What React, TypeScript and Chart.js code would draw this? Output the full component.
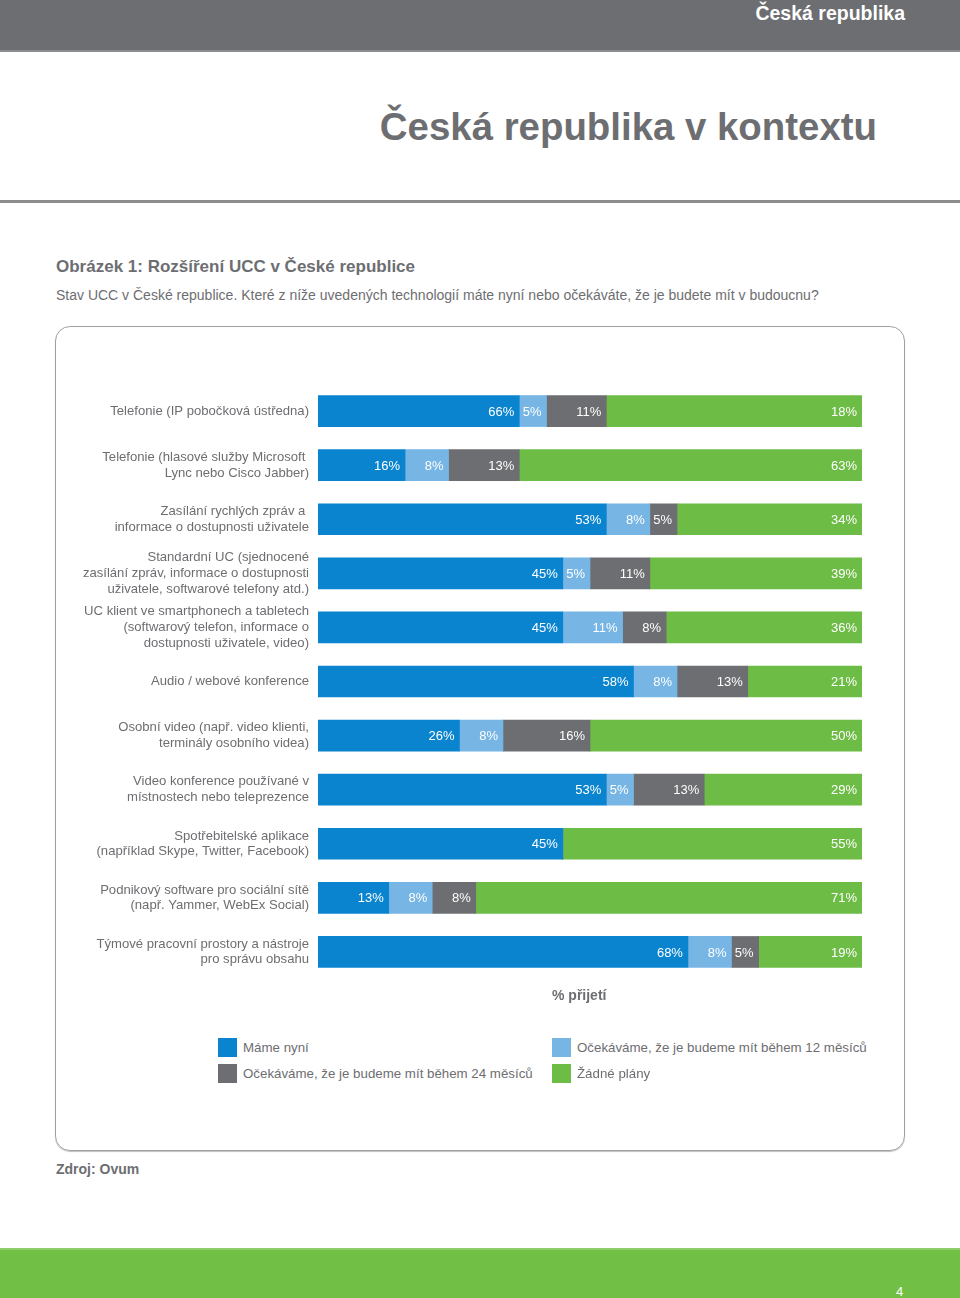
import React, { useEffect, useRef } from "react";
import { Chart, registerables } from "chart.js";

Chart.register(...registerables);

// ---- data ----
const categories: string[][] = [
  ["Telefonie (IP pobočková ústředna)"],
  ["Telefonie (hlasové služby Microsoft ", "Lync nebo Cisco Jabber)"],
  ["Zasílání rychlých zpráv a ", "informace o dostupnosti uživatele"],
  ["Standardní UC (sjednocené", "zasílání zpráv, informace o dostupnosti", "uživatele, softwarové telefony atd.)"],
  ["UC klient ve smartphonech a tabletech", "(softwarový telefon, informace o", "dostupnosti uživatele, video)"],
  ["Audio / webové konference"],
  ["Osobní video (např. video klienti,", "terminály osobního videa)"],
  ["Video konference používané v", "místnostech nebo teleprezence"],
  ["Spotřebitelské aplikace", "(například Skype, Twitter, Facebook)"],
  ["Podnikový software pro sociální sítě", "(např. Yammer, WebEx Social)"],
  ["Týmové pracovní prostory a nástroje", "pro správu obsahu"],
];

// bar lengths as drawn in the picture (%)
const haveNow = [37, 16, 53, 45, 45, 58, 26, 53, 45, 13, 68];
const within12 = [5, 8, 8, 5, 11, 8, 8, 5, 0, 8, 8];
const within24 = [11, 13, 5, 11, 8, 13, 16, 13, 0, 8, 5];
const noPlans = [47, 63, 34, 39, 36, 21, 50, 29, 55, 71, 19];

// value labels as printed in the picture
const haveNowLabels = ["66%", "16%", "53%", "45%", "45%", "58%", "26%", "53%", "45%", "13%", "68%"];
const within12Labels = ["5%", "8%", "8%", "5%", "11%", "8%", "8%", "5%", "", "8%", "8%"];
const within24Labels = ["11%", "13%", "5%", "11%", "8%", "13%", "16%", "13%", "", "8%", "5%"];
const noPlansLabels = ["18%", "63%", "34%", "39%", "36%", "21%", "50%", "29%", "55%", "71%", "19%"];

const seriesNames = [
  "Máme nyní",
  "Očekáváme, že je budeme mít během 12 měsíců",
  "Očekáváme, že je budeme mít během 24 měsíců",
  "Žádné plány",
];
const seriesColors = ["#0a84cf", "#76b5e4", "#6d6e71", "#6dbc45"];

const FONT = "'Liberation Sans', Arial, Helvetica, sans-serif";
const GRAY = "#6d6e71";

const valueLabelPlugin = {
  id: "valueLabels",
  afterDatasetsDraw(chart: any) {
    const ctx = chart.ctx;
    ctx.save();
    ctx.font = `13px ${FONT}`;
    ctx.fillStyle = "#ffffff";
    ctx.textAlign = "right";
    ctx.textBaseline = "middle";
    chart.data.datasets.forEach((ds: any, di: number) => {
      const meta = chart.getDatasetMeta(di);
      meta.data.forEach((el: any, i: number) => {
        const v = ds.data[i];
        const txt = ds.printed[i];
        if (!v || !txt) return;
        ctx.fillText(txt, el.x - 5, el.y + 1);
      });
    });
    ctx.restore();
  },
};

function BarChart() {
  const ref = useRef<HTMLCanvasElement | null>(null);
  useEffect(() => {
    if (!ref.current) return;
    const values = [haveNow, within12, within24, noPlans];
    const printed = [haveNowLabels, within12Labels, within24Labels, noPlansLabels];
    const chart = new Chart(ref.current, {
      type: "bar",
      data: {
        labels: categories as any,
        datasets: values.map((d, k) => ({
          label: seriesNames[k],
          data: d,
          printed: printed[k],
          backgroundColor: seriesColors[k],
          borderWidth: 0,
          barThickness: 31,
        })) as any,
      },
      options: {
        indexAxis: "y",
        animation: false,
        responsive: false,
        devicePixelRatio: 1,
        layout: { padding: { top: 44, bottom: 21, left: 0, right: 43 } },
        plugins: {
          legend: { display: false },
          tooltip: { enabled: false },
        },
        scales: {
          x: {
            stacked: true,
            min: 0,
            max: 100,
            display: false,
          },
          y: {
            stacked: true,
            grid: { display: false, drawTicks: false },
            border: { display: false },
            afterFit: (s: any) => {
              s.width = 262;
            },
            ticks: {
              color: GRAY,
              padding: 9,
              font: { family: FONT, size: 13.1, lineHeight: 1.2 },
            },
          },
        },
      },
      plugins: [valueLabelPlugin],
    });
    return () => chart.destroy();
  }, []);
  return (
    <canvas
      ref={ref}
      width={849}
      height={660}
      style={{ position: "absolute", left: 56, top: 340, width: 849, height: 660 }}
    />
  );
}

export default function App() {
  const abs = (o: React.CSSProperties): React.CSSProperties => ({ position: "absolute", ...o });
  const legendItem = (k: number, left: number, top: number) => (
    <div key={k} style={abs({ left, top, height: 19, display: "flex", alignItems: "center" })}>
      <div style={{ width: 19, height: 19, background: seriesColors[k] }} />
      <div style={{ marginLeft: 6, fontSize: 13.3, color: GRAY, whiteSpace: "nowrap" }}>{seriesNames[k]}</div>
    </div>
  );
  return (
    <div
      style={abs({
        left: 0,
        top: 0,
        width: 960,
        height: 1298,
        overflow: "hidden",
        background: "#fff",
        fontFamily: FONT,
      })}
    >
      <div style={abs({ left: 0, top: 0, width: 960, height: 50, background: "#6d6e71", borderBottom: "2px solid #8c8d8f" })} />
      <div style={abs({ right: 55, top: 1, fontSize: 19.5, fontWeight: "bold", color: "#fff", lineHeight: "24px" })}>
        Česká republika
      </div>
      <div style={abs({ right: 83, top: 103, fontSize: 38.4, fontWeight: "bold", color: GRAY, lineHeight: "48px", whiteSpace: "nowrap" })}>
        Česká republika v kontextu
      </div>
      <div style={abs({ left: 0, top: 200, width: 960, height: 3, background: "#8c8d8f" })} />
      <div style={abs({ left: 56, top: 256, fontSize: 17, fontWeight: "bold", color: GRAY, lineHeight: "22px", whiteSpace: "nowrap" })}>
        Obrázek 1: Rozšíření UCC v České republice
      </div>
      <div style={abs({ left: 56, top: 286, fontSize: 14, color: GRAY, lineHeight: "18px", whiteSpace: "nowrap" })}>
        Stav UCC v České republice. Které z níže uvedených technologií máte nyní nebo očekáváte, že je budete mít v budoucnu?
      </div>
      <div
        style={abs({
          left: 55,
          top: 326,
          width: 848,
          height: 823,
          border: "1.5px solid #a0a0a0",
          borderRadius: 15,
          boxShadow: "0 1px 1px rgba(0,0,0,0.25)",
        })}
      />
      <BarChart />
      <div style={abs({ left: 552, top: 986, fontSize: 14, fontWeight: "bold", color: GRAY, lineHeight: "18px" })}>
        % přijetí
      </div>
      {legendItem(0, 218, 1038)}
      {legendItem(1, 552, 1038)}
      {legendItem(2, 218, 1064)}
      {legendItem(3, 552, 1064)}
      <div style={abs({ left: 56, top: 1160, fontSize: 14, fontWeight: "bold", color: GRAY, lineHeight: "18px" })}>
        Zdroj: Ovum
      </div>
      <div style={abs({ left: 0, top: 1248, width: 960, height: 50, background: "#71bf44", borderTop: "2px solid #8fcd6b" })} />
      <div style={abs({ left: 896, top: 1284, fontSize: 13, color: "#fff", lineHeight: "16px" })}>4</div>
    </div>
  );
}
